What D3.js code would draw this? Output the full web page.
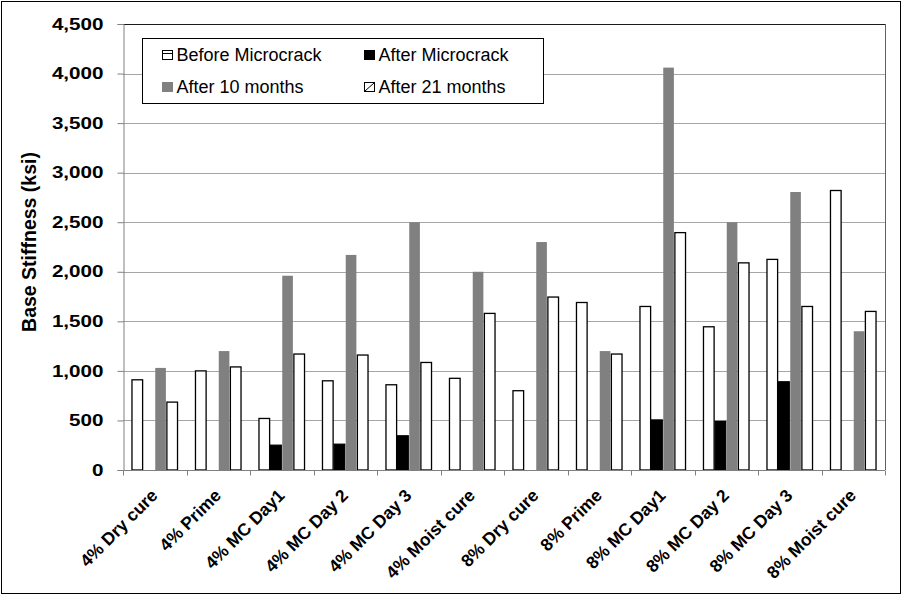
<!DOCTYPE html>
<html><head><meta charset="utf-8">
<script src="https://cdn.jsdelivr.net/npm/d3@7"></script>
<style>body{margin:0;background:#fff}svg{display:block;font-family:Arial,"Liberation Sans",sans-serif}</style>
</head><body>
<svg id="c" width="904" height="597"></svg>
<script>
const categories = ["4% Dry cure","4% Prime","4% MC Day1","4% MC Day 2","4% MC Day 3","4% Moist cure","8% Dry cure","8% Prime","8% MC Day1","8% MC Day 2","8% MC Day 3","8% Moist cure"];
const seriesNames = ["Before Microcrack","After Microcrack","After 10 months","After 21 months"];
const beforeMicrocrack = [910,1000,520,900,860,925,800,1690,1650,1445,2125,2820];
const afterMicrocrack  = [null,null,250,260,345,null,null,null,505,490,890,null];
const after10Months    = [1030,1200,1960,2170,2500,2000,2300,1200,4060,2500,2805,1400];
const after21Months    = [685,1040,1170,1160,1085,1580,1745,1170,2395,2090,1650,1600];
const yTicks = [0,500,1000,1500,2000,2500,3000,3500,4000,4500];
const seriesValues = [beforeMicrocrack, afterMicrocrack, after10Months, after21Months];

const svg = d3.select("#c");
const m = {l:123, r:885, t:24, b:470};
svg.append("rect").attr("x",1.5).attr("y",1.5).attr("width",899).attr("height",592).attr("fill","#fff").attr("stroke","#000").attr("stroke-width",1);

const y = d3.scaleLinear().domain([0,4500]).range([m.b,m.t]);
const x0 = d3.scaleBand().domain(categories).range([m.l,m.r]).paddingInner(0.267).paddingOuter(0.1335);
const x1 = d3.scaleBand().domain(d3.range(4)).range([0,x0.bandwidth()]);

// gridlines
svg.append("g").selectAll("line").data(yTicks.filter(d=>d>0 && d<4500)).join("line")
  .attr("x1",m.l).attr("x2",m.r).attr("y1",d=>Math.round(y(d))+0.5).attr("y2",d=>Math.round(y(d))+0.5)
  .attr("stroke","#a6a6a6").attr("stroke-width",1.2);
// plot border top/right
svg.append("line").attr("x1",m.l).attr("x2",m.r+1).attr("y1",m.t+0.5).attr("y2",m.t+0.5).attr("stroke","#1a1a1a");
svg.append("line").attr("x1",m.r+0.5).attr("x2",m.r+0.5).attr("y1",m.t).attr("y2",m.b).attr("stroke","#606060");

const styles = [
  {fill:"#fff", stroke:"#000"},
  {fill:"#000", stroke:"#000"},
  {fill:"#808080", stroke:"none"},
  {fill:"#fff", stroke:"#000"}
];

const g = svg.append("g");
categories.forEach((c,i)=>{
  seriesValues.forEach((vals,s)=>{
    const v = vals[i];
    if (v==null) return;
    const xx = x0(c)+x1(s);
    g.append("rect")
      .attr("x", xx+0.5).attr("y", y(v))
      .attr("width", x1.bandwidth()-1).attr("height", y(0)-y(v))
      .attr("fill", styles[s].fill)
      .attr("stroke", styles[s].stroke).attr("stroke-width",1.3);
  });
});

// y axis
const ya = svg.append("g").attr("transform",`translate(${m.l+0.5},0)`)
  .call(d3.axisLeft(y).tickValues(yTicks).tickFormat(d3.format(",")).tickSize(6).tickPadding(14));
ya.select(".domain").attr("stroke","#808080");
ya.selectAll(".tick line").attr("stroke","#808080");
ya.selectAll("text").attr("x",0).attr("transform","translate(-20,0) scale(1.29,1)")
  .attr("font-size",16).attr("font-weight","bold").attr("fill","#000").attr("font-family","Arial,'Liberation Sans',sans-serif");

// x axis
const xa = svg.append("g").attr("transform",`translate(0,${m.b+0.5})`);
xa.append("line").attr("x1",m.l).attr("x2",m.r).attr("stroke","#808080");
const bounds = d3.range(categories.length+1).map(i=>m.l+i*x0.step());
xa.selectAll(".tk").data(bounds).join("line").attr("class","tk")
  .attr("x1",d=>Math.round(d)+0.5).attr("x2",d=>Math.round(d)+0.5).attr("y1",0).attr("y2",5).attr("stroke","#808080");
xa.selectAll(".lab").data(categories).join("text").attr("class","lab")
  .attr("transform",d=>`translate(${x0(d)+x0.bandwidth()/2+4},26) rotate(-45)`)
  .attr("text-anchor","end")
  .attr("font-size",17.5).attr("font-weight","bold").text(d=>d);

// y title
svg.append("text").attr("transform","translate(36,242) rotate(-90)")
  .attr("text-anchor","middle").attr("font-size",19.5).attr("font-weight","bold").text("Base Stiffness (ksi)");

// legend
const lg = svg.append("g");
lg.append("rect").attr("x",142.5).attr("y",38.5).attr("width",401).attr("height",65).attr("fill","#fff").attr("stroke","#000");
const pos = [[162,55],[364,55],[162,87],[364,87]];
seriesNames.forEach((n,i)=>{
  const [px,py] = pos[i];
  const gi = lg.append("g").attr("transform",`translate(${px},${py})`);
  if (i===0){
    gi.append("rect").attr("x",0.5).attr("y",-4.5).attr("width",10).attr("height",9).attr("fill","#fff").attr("stroke","#000");
    gi.append("line").attr("x1",0.5).attr("x2",10.5).attr("y1",-1.5).attr("y2",-1.5).attr("stroke","#000");
  } else if (i===1){
    gi.append("rect").attr("x",0).attr("y",-5).attr("width",11).attr("height",10).attr("fill","#000");
  } else if (i===2){
    gi.append("rect").attr("x",0).attr("y",-5).attr("width",11).attr("height",10).attr("fill","#808080");
  } else {
    gi.append("rect").attr("x",0.5).attr("y",-4.5).attr("width",10).attr("height",9).attr("fill","#fff").attr("stroke","#000");
    gi.append("line").attr("x1",1).attr("x2",10).attr("y1",4).attr("y2",-4).attr("stroke","#000");
  }
  gi.append("text").attr("x",14.5).attr("y",6).attr("font-size",18).text(n);
});
</script>
</body></html>
